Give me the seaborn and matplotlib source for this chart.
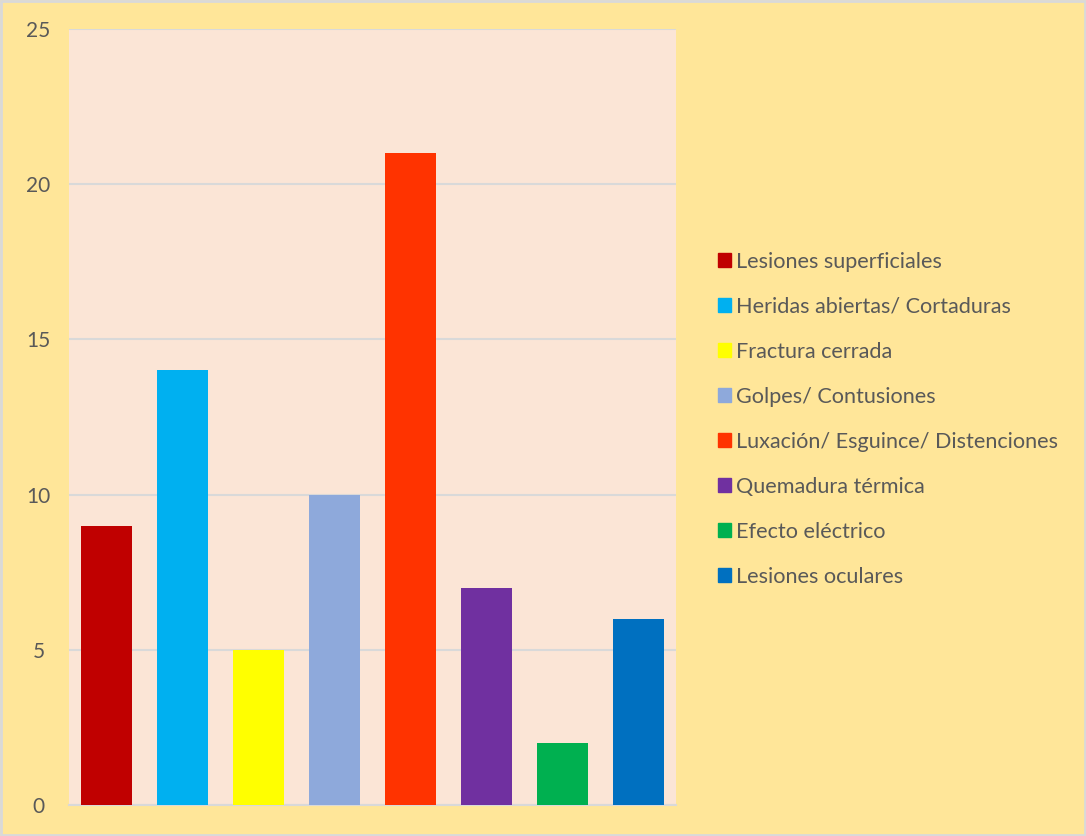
import matplotlib.pyplot as plt
import matplotlib.patches as mpatches
import seaborn as sns
import pandas as pd

sns.set_theme(style="white")
plt.rcParams['font.family'] = ['Lato', 'DejaVu Sans']

categorias = ["Lesiones superficiales", "Heridas abiertas/ Cortaduras", "Fractura cerrada",
              "Golpes/ Contusiones", "Luxación/ Esguince/ Distenciones", "Quemadura térmica",
              "Efecto eléctrico", "Lesiones oculares"]
valores = [9, 14, 5, 10, 21, 7, 2, 6]
colores = ["#C00000", "#00B0F0", "#FFFF00", "#8EA9DB", "#FF3300", "#7030A0", "#00B050", "#0070C0"]
yticks = [0, 5, 10, 15, 20, 25]

df = pd.DataFrame({"categoria": categorias, "valor": valores})

fig = plt.figure(figsize=(10.86, 8.36), dpi=100, facecolor="#FFE699")
ax = fig.add_axes([0.0635, 0.037, 0.559, 0.9285])
ax.set_facecolor("#FBE5D6")

sns.barplot(data=df, x="categoria", y="valor", hue="categoria", palette=colores,
            dodge=False, width=0.67, saturation=1, legend=False, ax=ax, zorder=3,
            linewidth=0)

ax.set_ylim(0, 25)
ax.set_yticks(yticks)
ax.set_xticks([])
ax.set_xlabel("")
ax.set_ylabel("")
ax.tick_params(axis="y", length=0, pad=22, labelsize=15, labelcolor="#595959")
for lab in ax.get_yticklabels():
    lab.set_horizontalalignment("center")
ax.yaxis.grid(True, color="#D9D9D9", linewidth=1.5, zorder=0)
for s in ["top", "right", "left"]:
    ax.spines[s].set_visible(False)
ax.spines["bottom"].set_color("#D9D9D9")
ax.spines["bottom"].set_linewidth(1.5)

handles = [mpatches.Patch(color=c, label=l) for c, l in zip(colores, categorias)]
leg = fig.legend(handles=handles, loc="upper left", bbox_to_anchor=(0.643, 0.722),
                 frameon=False, fontsize=15.6, labelcolor="#595959",
                 handlelength=0.62, handleheight=0.62, handletextpad=0.22, labelspacing=1.155)

# borde gris exterior
fig.patches.append(mpatches.Rectangle((0.001, 0.001), 0.998, 0.998, transform=fig.transFigure,
                                      fill=False, edgecolor="#D9D9D9", linewidth=2))

fig.savefig("out.png", dpi=100, facecolor=fig.get_facecolor())
